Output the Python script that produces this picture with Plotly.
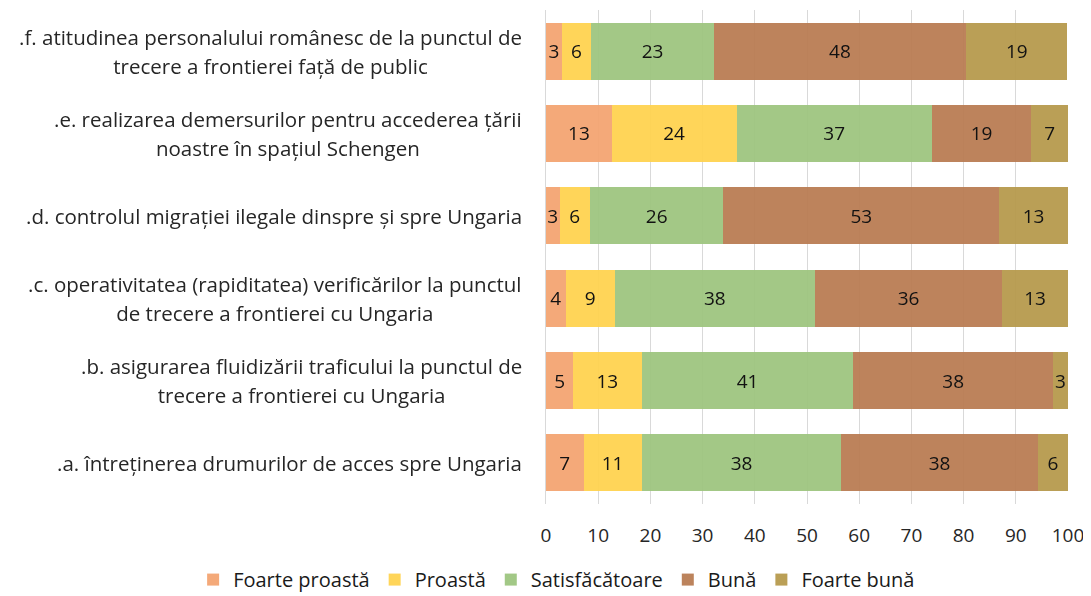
import plotly.graph_objects as go

categories = [
    ".a. întreținerea drumurilor de acces spre Ungaria",
    ".b. asigurarea fluidizării traficului la punctul de<br>trecere a frontierei cu Ungaria",
    ".c. operativitatea (rapiditatea) verificărilor la punctul<br>de trecere a frontierei cu Ungaria",
    ".d. controlul migrației ilegale dinspre și spre Ungaria",
    ".e. realizarea demersurilor pentru accederea țării<br>noastre în spațiul Schengen",
    ".f. atitudinea personalului românesc de la punctul de<br>trecere a frontierei față de public",
]
series_names = ["Foarte proastă", "Proastă", "Satisfăcătoare", "Bună", "Foarte bună"]
foarte_proasta = [7.2, 5.2, 3.75, 2.6, 12.6, 3.0]
proasta = [11.1, 13.1, 9.45, 5.8, 23.9, 5.7]
satisfacatoare = [38.3, 40.6, 38.3, 25.6, 37.4, 23.4]
buna = [37.6, 38.2, 35.9, 52.8, 19.1, 48.4]
foarte_buna = [5.8, 2.9, 12.6, 13.2, 7.0, 19.4]
x_ticks = [0, 10, 20, 30, 40, 50, 60, 70, 80, 90, 100]

colors = ["#F4A36F", "#FFD24D", "#9CC47D", "#B87A50", "#B5984A"]
values = [foarte_proasta, proasta, satisfacatoare, buna, foarte_buna]

FONT = "Open Sans"
TXT = "#262626"
LBL = 20.5
fig = go.Figure()
for name, vals, col in zip(series_names, values, colors):
    fig.add_trace(go.Bar(
        y=categories, x=vals, name=name, orientation="h",
        marker=dict(color=col, line=dict(width=0)), opacity=0.93,
        texttemplate="%{x:.0f}", textposition="inside", insidetextanchor="middle",
        textfont=dict(family=FONT, size=19, color="#000000"),
        constraintext="none",
    ))

span = '<span style="font-size:%spx">' % LBL
for cat in categories:
    fig.add_annotation(
        x=-0.043, xref="paper", y=cat, yref="y",
        text=span + cat.replace("<br>", "</span><br>" + span) + "</span>",
        showarrow=False, xanchor="right", align="center",
        font=dict(family=FONT, size=22.5, color=TXT),
    )

fig.update_layout(
    barmode="stack", bargap=0.31,
    width=1083, height=588,
    margin=dict(l=538, r=23, t=2, b=92, autoexpand=False),
    plot_bgcolor="white", paper_bgcolor="white",
    font=dict(family=FONT, size=19, color=TXT),
    legend=dict(orientation="h", xref="paper", x=-0.676, xanchor="left",
                yref="paper", y=-0.153, yanchor="middle",
                font=dict(family=FONT, size=20, color="#1a1a1a"),
                itemwidth=30, traceorder="normal", tracegroupgap=0),
    showlegend=True,
)
fig.update_xaxes(range=[0, 100], tickvals=x_ticks, showgrid=True, gridcolor="#D9D9D9",
                 gridwidth=1, zeroline=False, showline=False,
                 ticks="outside", ticklen=14, tickcolor="rgba(0,0,0,0)",
                 ticklabeloverflow="allow",
                 tickfont=dict(family=FONT, size=19, color=TXT))
fig.update_yaxes(showticklabels=False, showline=True, linecolor="#D9D9D9", linewidth=1,
                 ticks="", showgrid=False)

fig.write_html("out.html")
